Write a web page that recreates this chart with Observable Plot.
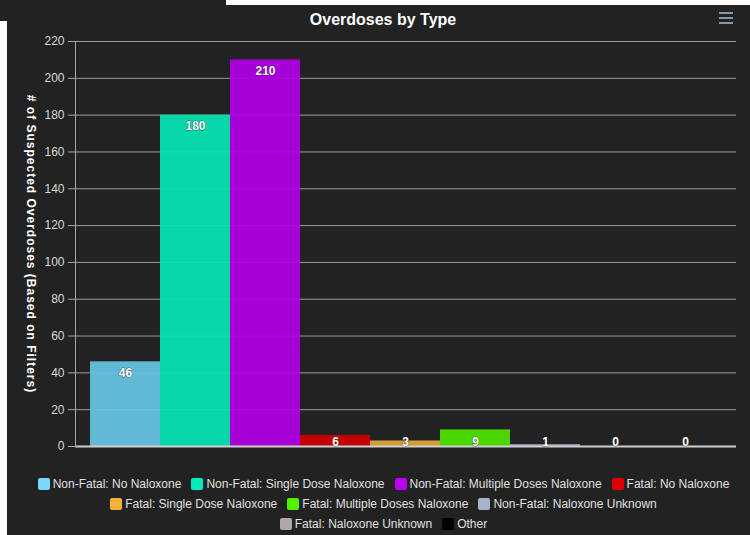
<!DOCTYPE html>
<html>
<head>
<meta charset="utf-8">
<script src="https://cdn.jsdelivr.net/npm/d3@7"></script>
<script src="https://cdn.jsdelivr.net/npm/@observablehq/plot@0.6"></script>
<style>
  html, body { margin: 0; padding: 0; background: #fff; }
  #page { position: relative; width: 750px; height: 535px; background: #222222; overflow: hidden;
          font-family: "Liberation Sans", Arial, sans-serif; }
  .strip { position: absolute; background: #fff; }
  #title { position: absolute; left: 0; width: 766px; top: 11px; text-align: center; color: #fff;
           font-weight: bold; font-size: 16px; }
  #chart { position: absolute; left: 0; top: 33px; }
  #menu { position: absolute; left: 719px; top: 12px; width: 14px; }
  #menu div { height: 2px; background: #8796a4; margin-bottom: 3px; }
  #legend { position: absolute; left: 17px; width: 733px; top: 474px; color: #e0e0e0; font-size: 12px; }
  .row { display: flex; justify-content: center; height: 20px; align-items: center; }
  .item { display: flex; align-items: center; margin: 0 5px; white-space: nowrap; }
  .sw { width: 12px; height: 12px; border-radius: 2px; margin-right: 3px; }
</style>
</head>
<body>
<div id="page">
  <div class="strip" style="left:226px;top:0;width:524px;height:5px"></div>
  <div class="strip" style="left:0;top:21px;width:7px;height:514px"></div>
  <div id="title">Overdoses by Type</div>
  <div id="menu"><div></div><div></div><div></div></div>
  <div id="chart"></div>
  <div id="legend"></div>
</div>
<script>
const categories = [
  "Non-Fatal: No Naloxone",
  "Non-Fatal: Single Dose Naloxone",
  "Non-Fatal: Multiple Doses Naloxone",
  "Fatal: No Naloxone",
  "Fatal: Single Dose Naloxone",
  "Fatal: Multiple Doses Naloxone",
  "Non-Fatal: Naloxone Unknown",
  "Fatal: Naloxone Unknown",
  "Other"
];
const values = [46, 180, 210, 6, 3, 9, 1, 0, 0];
const colors = ["#77d8fb", "#00ecbc", "#bb00f2", "#de0000", "#f5b03a", "#55f000", "#aab2cc", "#b0a8a8", "#000000"];
const barColors = ["#66c2e0", "#05e0b0", "#ae00e0", "#cc0000", "#dca436", "#4ee000", "#a0a8c0", "#a8a0a0", "#000000"];
const yTicks = [0, 20, 40, 60, 80, 100, 120, 140, 160, 180, 200, 220];
const legendRows = [[0, 1, 2, 3], [4, 5, 6], [7, 8]];
const yTitle = "# of Suspected Overdoses (Based on Filters)";

const data = categories.map((name, i) => ({name, value: values[i]}));

const labelStyle = {fill: "#fff", stroke: "#222", strokeWidth: 1, strokeOpacity: 0.6, paintOrder: "stroke",
  fontWeight: "bold", fontSize: 12};

const plot = Plot.plot({
  width: 750,
  height: 427,
  marginLeft: 75,
  marginRight: 14,
  marginTop: 8,
  marginBottom: 14,
  style: {background: "transparent", fontFamily: "Liberation Sans, Arial, sans-serif", fontSize: "12px", color: "#d8d8d8"},
  x: {type: "band", domain: categories, padding: 0, insetLeft: 15, insetRight: 16, axis: null},
  y: {domain: [0, 220]},
  color: {domain: categories, range: barColors},
  marks: [
    Plot.gridY(yTicks, {stroke: "#9a9a9a", strokeOpacity: 1}),
    Plot.barY(data, {x: "name", y: "value", fill: "name", fillOpacity: 0.95}),
    Plot.ruleY([0], {stroke: "#d0d0d0", strokeWidth: 2}),
    Plot.frame({anchor: "left", stroke: "#a8a8a8"}),
    Plot.axisY(yTicks, {tickSize: 7, tickPadding: 4, stroke: "#a8a8a8", fill: "#d8d8d8", label: null, fontSize: 12}),
    Plot.text([yTitle], {frameAnchor: "left", textAnchor: "middle", dx: -45, rotate: 90, fill: "#fff",
      fontWeight: "bold", fontSize: 12}),
    Plot.text(data.filter(d => d.value >= 10), {x: "name", y: "value", text: d => String(d.value), dy: 11, ...labelStyle}),
    Plot.text(data.filter(d => d.value < 10), {x: "name", y: 0, text: d => String(d.value), dy: -4, ...labelStyle})
  ]
});
plot.querySelectorAll("text").forEach(t => { if (t.textContent === yTitle) t.setAttribute("letter-spacing", "1"); });
document.getElementById("chart").appendChild(plot);

const legend = document.getElementById("legend");
legendRows.forEach(row => {
  const r = document.createElement("div");
  r.className = "row";
  row.forEach(i => {
    const it = document.createElement("div");
    it.className = "item";
    const sw = document.createElement("div");
    sw.className = "sw";
    sw.style.background = colors[i];
    const tx = document.createElement("span");
    tx.textContent = categories[i];
    it.appendChild(sw); it.appendChild(tx);
    r.appendChild(it);
  });
  legend.appendChild(r);
});
</script>
</body>
</html>
